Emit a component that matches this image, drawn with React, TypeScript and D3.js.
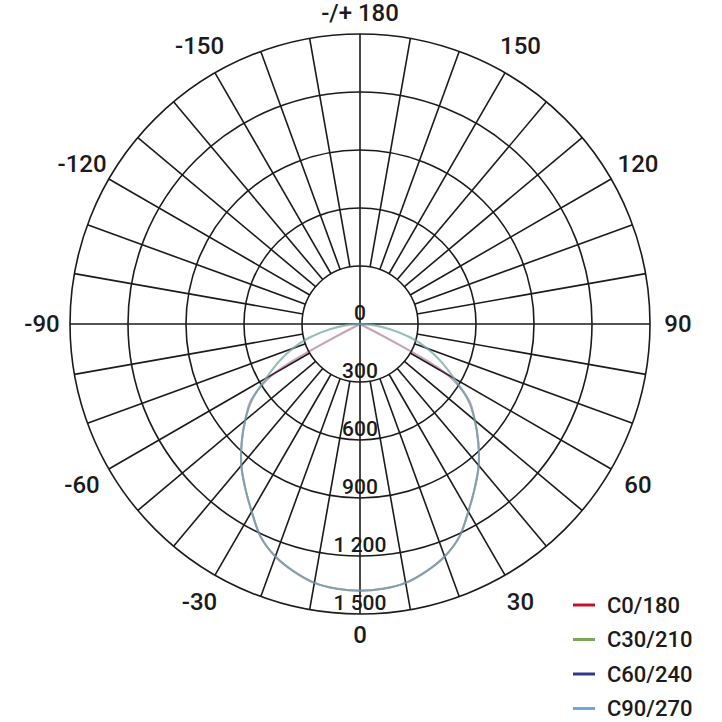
// @ts-nocheck
import { useEffect, useRef } from 'react';
import * as d3 from 'd3';

// polar angles (deg), 0 = down, positive to the right
const gammas = [0, 5, 10, 15, 20, 25, 30, 35, 40, 45, 50, 55, 60, 65, 70, 75, 80, 85, 90];

// luminous intensity (cd) per half plane
const c0_180 = [1380, 1375, 1360, 1325, 1280, 1215, 1120, 1035, 955, 865, 775, 690, 520, 0, 0, 0, 0, 0, 0];
const c30_210 = [1380, 1375, 1360, 1325, 1280, 1215, 1120, 1035, 955, 865, 775, 680, 560, 465, 370, 270, 160, 70, 0];
const c60_240 = [1380, 1375, 1360, 1325, 1280, 1215, 1120, 1035, 955, 865, 775, 685, 510, 0, 0, 0, 0, 0, 0];
const c90_270 = [1378, 1374, 1358, 1324, 1280, 1216, 1122, 1036, 956, 866, 776, 682, 562, 466, 372, 272, 162, 72, 0];

const series = [
  { name: 'C0/180', color: '#c8102e', values: c0_180, opacity: 0.28 },
  { name: 'C30/210', color: '#7aa95c', values: c30_210, opacity: 0.55 },
  { name: 'C60/240', color: '#2e3a8c', values: c60_240, opacity: 0.2 },
  { name: 'C90/270', color: '#6fa8dc', values: c90_270, opacity: 0.45 },
];

const ringValues = [0, 300, 600, 900, 1200, 1500];
const ringLabels = ['0', '300', '600', '900', '1 200', '1 500'];

const angleTicks = [0, 30, 60, 90, 120, 150, 180, -150, -120, -90, -60, -30];
const angleLabels = ['0', '30', '60', '90', '120', '150', '-/+ 180', '-150', '-120', '-90', '-60', '-30'];

const FONT = 'Roboto, "Liberation Sans", sans-serif';

const PolarDiagram = () => {
  const svgRef = useRef();

  useEffect(() => {
    const svg = d3.select(svgRef.current);
    svg.selectAll('*').remove();

    const cx = 360;
    const cy = 324;
    const r = d3.scaleLinear().domain([0, 1500]).range([0, 290]);
    const toRad = d => (d * Math.PI) / 180;

    const g = svg.append('g').attr('transform', `translate(${cx},${cy})`);

    // radial spokes every 10 deg, from the first ring outwards
    d3.range(0, 360, 10).forEach(a => {
      const inner = a % 90 === 0 ? 0 : r(300);
      const t = toRad(a);
      g.append('line')
        .attr('x1', inner * Math.sin(t))
        .attr('y1', inner * Math.cos(t))
        .attr('x2', r(1500) * Math.sin(t))
        .attr('y2', r(1500) * Math.cos(t))
        .attr('stroke', '#1b1b1b')
        .attr('stroke-width', 1.6);
    });

    // rings
    ringValues.slice(1).forEach(v => {
      g.append('circle')
        .attr('r', r(v))
        .attr('fill', 'none')
        .attr('stroke', '#1b1b1b')
        .attr('stroke-width', 1.6);
    });

    // ring labels along the bottom axis
    ringValues.forEach((v, i) => {
      g.append('text')
        .attr('x', 0)
        .attr('y', i === 0 ? -4 : r(v) - 4)
        .attr('text-anchor', 'middle')
        .style('font-family', FONT)
        .style('font-weight', 500)
        .style('font-size', '21px')
        .style('fill', '#1b1b1b')
        .text(ringLabels[i]);
    });

    // angle labels
    angleTicks.forEach((a, i) => {
      const t = toRad(a);
      const abs = Math.abs(a);
      const rr = abs === 0 || abs === 180 ? 311 : abs === 90 ? 318 : 321;
      g.append('text')
        .attr('x', rr * Math.sin(t))
        .attr('y', rr * Math.cos(t))
        .attr('text-anchor', 'middle')
        .attr('dominant-baseline', 'central')
        .style('font-family', FONT)
        .style('font-weight', 500)
        .style('font-size', '24px')
        .style('fill', '#1b1b1b')
        .text(angleLabels[i]);
    });

    // intensity curves
    const line = d3
      .lineRadial()
      .angle(d => Math.PI - toRad(d.gamma))
      .radius(d => r(d.value))
      .curve(d3.curveCatmullRom.alpha(0.5));

    series.forEach(s => {
      const pts = [];
      for (let i = gammas.length - 1; i > 0; i--) pts.push({ gamma: -gammas[i], value: s.values[i] });
      gammas.forEach((gm, i) => pts.push({ gamma: gm, value: s.values[i] }));
      g.append('path')
        .datum(pts)
        .attr('d', line)
        .attr('fill', 'none')
        .attr('stroke', s.color)
        .attr('stroke-width', 2)
        .attr('stroke-opacity', s.opacity);
    });

    // legend
    const legend = svg.append('g').attr('transform', 'translate(573,605)');
    series.forEach((s, i) => {
      const row = legend.append('g').attr('transform', `translate(0,${i * 34.5})`);
      row.append('line')
        .attr('x1', 0)
        .attr('x2', 22)
        .attr('stroke', s.color)
        .attr('stroke-width', 3);
      row.append('text')
        .attr('x', 34)
        .attr('y', 0)
        .attr('dominant-baseline', 'central')
        .style('font-family', FONT)
        .style('font-weight', 500)
        .style('font-size', '22px')
        .style('fill', '#1b1b1b')
        .text(s.name);
    });
  }, []);

  return <svg ref={svgRef} width={722} height={722} style={{ display: 'block' }}></svg>;
};

export default function App() {
  return (
    <div style={{ position: 'absolute', left: 0, top: 0, background: '#fff' }}>
      <PolarDiagram />
    </div>
  );
}
